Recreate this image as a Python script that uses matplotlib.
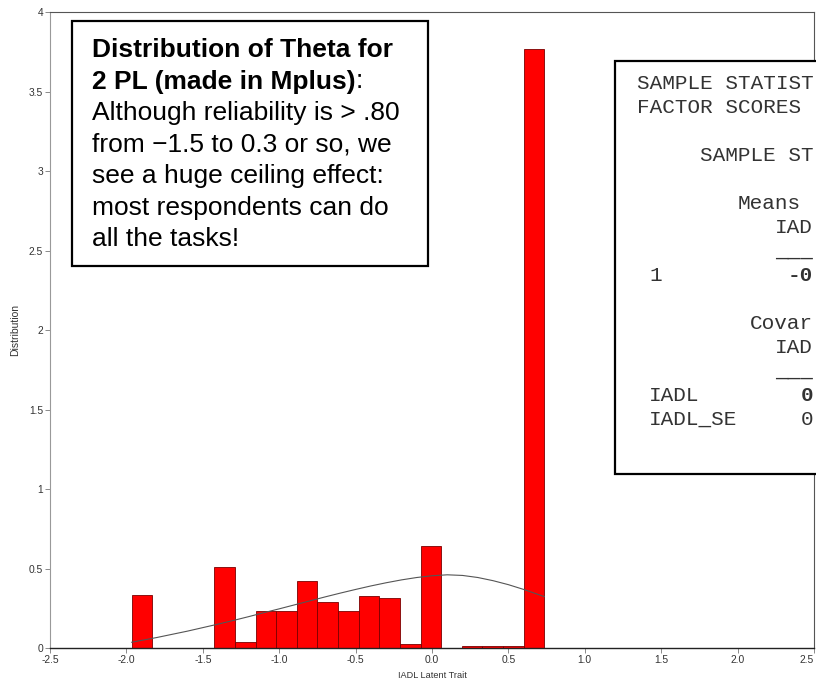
import numpy as np
import matplotlib
matplotlib.use('Agg')
from matplotlib import pyplot as plt
from matplotlib.patches import Rectangle

# histogram of the IADL factor scores
bin_edges = [-1.965, -1.830, -1.695, -1.560, -1.425, -1.290, -1.155, -1.020,
             -0.885, -0.750, -0.615, -0.480, -0.345, -0.210, -0.075, 0.060,
             0.195, 0.330, 0.465, 0.600, 0.735]
bin_heights = [0.338, 0.0, 0.0, 0.0, 0.512, 0.040, 0.236, 0.236, 0.421, 0.293,
               0.236, 0.331, 0.316, 0.025, 0.645, 0.0, 0.012, 0.012, 0.012, 3.765]

# fitted curve, points
curve_x = [-1.965, -1.9, -1.8, -1.7, -1.6, -1.5, -1.4, -1.3, -1.2, -1.1, -1.0,
           -0.9, -0.8, -0.7, -0.6, -0.5, -0.4, -0.3, -0.2, -0.1, 0.0, 0.1,
           0.2, 0.3, 0.4, 0.5, 0.6, 0.735]
curve_y = [0.038, 0.050, 0.068, 0.088, 0.108, 0.130, 0.152, 0.175, 0.199, 0.224,
           0.248, 0.273, 0.298, 0.323, 0.347, 0.370, 0.392, 0.412, 0.430, 0.445,
           0.456, 0.462, 0.458, 0.445, 0.425, 0.400, 0.370, 0.325]

x_ticks = [-2.5, -2.0, -1.5, -1.0, -0.5, 0.0, 0.5, 1.0, 1.5, 2.0, 2.5]
x_tick_labels = ['-2.5', '-2.0', '-1.5', '-1.0', '-0.5', '0.0', '0.5', '1.0', '1.5', '2.0', '2.5']
y_ticks = [0, 0.5, 1, 1.5, 2, 2.5, 3, 3.5, 4]
y_tick_labels = ['0', '0.5', '1', '1.5', '2', '2.5', '3', '3.5', '4']

x_label = 'IADL Latent Trait'
y_label = 'Distribution'

note_title = ['Distribution of Theta for', '2 PL (made in Mplus)']
note_body = ['Although reliability is > .80',
             'from \u22121.5 to 0.3 or so, we',
             'see a huge ceiling effect:',
             'most respondents can do',
             'all the tasks!']

# (row, column, text, weight) of the Mplus output pasted on the right
stats_pieces = [
    (0, 0, 'SAMPLE STATIST', 'normal'),
    (1, 0, 'FACTOR SCORES', 'normal'),
    (3, 5, 'SAMPLE ST', 'normal'),
    (5, 8, 'Means', 'normal'),
    (6, 11, 'IAD', 'normal'),
    (7, 11, '___', 'normal'),
    (8, 1, '1', 'normal'),
    (8, 12, '-0', 'bold'),
    (10, 9, 'Covar', 'normal'),
    (11, 11, 'IAD', 'normal'),
    (12, 11, '___', 'normal'),
    (13, 1, 'IADL', 'normal'),
    (13, 13, '0', 'bold'),
    (14, 1, 'IADL_SE', 'normal'),
    (14, 13, '0', 'normal'),
]

plt.rcParams['font.family'] = ['Liberation Sans', 'DejaVu Sans']
plt.rcParams['axes.unicode_minus'] = False

W, H = 816, 679


def fx(px):
    return px / W


def fy(py):
    return 1 - py / H


fig = plt.figure(figsize=(W / 100, H / 100), dpi=100)
ax = fig.add_axes([fx(50), fy(648.3), fx(814) - fx(50), fy(12) - fy(648.3)])

ax.bar(bin_edges[:-1], bin_heights, width=np.diff(bin_edges), align='edge',
       color='#ff0000', edgecolor='#7a0000', linewidth=0.6, zorder=2)
ax.plot(curve_x, curve_y, color='#555555', lw=0.8, zorder=3)

ax.set_xlim(-2.5, 2.5)
ax.set_ylim(0, 4)
ax.set_xticks(x_ticks, labels=x_tick_labels)
ax.set_yticks(y_ticks, labels=y_tick_labels)
ax.tick_params(direction='out', length=3.5, width=0.6, color='#777777',
               labelsize=7.4, labelcolor='#333333', pad=1.5)
# last label sits on the figure edge, keep it inside
ax.get_xticklabels()[-1].set_ha('right')

ax.spines['left'].set_color('#999999')
ax.spines['left'].set_linewidth(0.8)
ax.spines['bottom'].set_color('#222222')
ax.spines['bottom'].set_linewidth(1.0)
for side in ['top', 'right']:
    ax.spines[side].set_color('#555555')
    ax.spines[side].set_linewidth(0.8)

fig.text(fx(432.5), fy(675), x_label, ha='center', va='center', fontsize=6.6, color='#333333')
fig.text(fx(15), fy(330), y_label, rotation=90, ha='center', va='center', fontsize=7.5, color='#333333')

# note box on the left
fig.add_artist(Rectangle((fx(72), fy(266)), fx(428) - fx(72), fy(21) - fy(266),
                         transform=fig.transFigure, facecolor='white',
                         edgecolor='black', lw=1.6, zorder=5))
note_size = 19
baselines = [57 + 31.5 * i for i in range(7)]
fig.text(fx(92.3), fy(baselines[0]), note_title[0], fontsize=note_size, fontweight='bold',
         va='baseline', zorder=6)
t2 = fig.text(fx(92.3), fy(baselines[1]), note_title[1], fontsize=note_size, fontweight='bold',
              va='baseline', zorder=6)
renderer = fig.canvas.get_renderer()
bb = t2.get_window_extent(renderer)
fig.text(bb.x1 / W, fy(baselines[1]), ':', fontsize=note_size, va='baseline', zorder=6)
for line, yb in zip(note_body, baselines[2:]):
    fig.text(fx(92.3), fy(yb), line, fontsize=note_size, va='baseline', zorder=6)

# Mplus output box on the right (runs past the edge)
fig.add_artist(Rectangle((fx(615), fy(474.3)), fx(840) - fx(615), fy(61) - fy(474.3),
                         transform=fig.transFigure, facecolor='white',
                         edgecolor='black', lw=1.6, zorder=5))
char_w = 12.6
for row, col, txt, weight in stats_pieces:
    fig.text(fx(636.7 + col * char_w), fy(89 + 24 * row), txt, family='Liberation Mono',
             fontsize=15.1, fontweight=weight, va='baseline', color='#333333', zorder=6)

fig.savefig('out.png', dpi=100)
